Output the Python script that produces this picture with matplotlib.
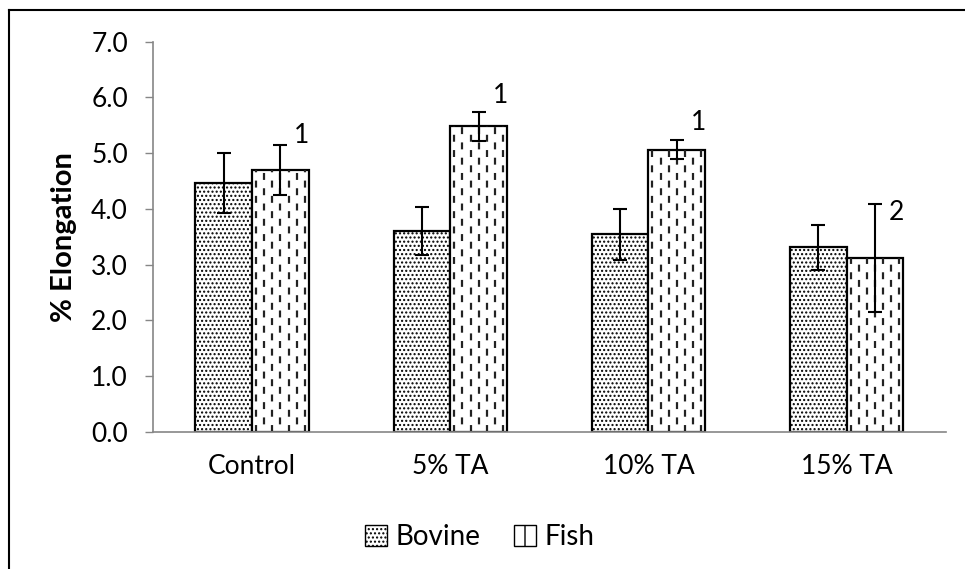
import numpy as np
import matplotlib.pyplot as plt
from matplotlib.patches import Patch

plt.rcParams['font.family'] = ['Lato', 'DejaVu Sans']
plt.rcParams['hatch.linewidth'] = 1.0
plt.rcParams['lines.scale_dashes'] = False

categories = ['Control', '5% TA', '10% TA', '15% TA']
bovine = [4.47, 3.61, 3.54, 3.31]
bovine_err = [0.54, 0.43, 0.45, 0.40]
fish = [4.70, 5.48, 5.06, 3.11]
fish_err = [0.45, 0.26, 0.17, 0.97]
labels = ['1', '1', '1', '2']
label_y = [5.31, 6.04, 5.55, 3.93]

fig = plt.figure(figsize=(9.65, 5.69), dpi=100)
ax = fig.add_axes([0.1585, 0.2413, 0.8215, 0.6854])

x = np.arange(len(categories))
w = 0.286

b1 = ax.bar(x - w/2, bovine, w, facecolor='white', edgecolor='black',
            linewidth=1.6, hatch='....', zorder=2)
b2 = ax.bar(x + w/2, fish, w, facecolor='white', edgecolor='black',
            linewidth=1.6, zorder=2)

# dashed vertical texture inside the fish bars
step = 0.041
for i, bar in enumerate(b2):
    left = bar.get_x()
    xs = np.arange(left + step/2, left + bar.get_width(), step)
    for k, xv in enumerate(xs):
        off = 0 if k % 2 == 0 else 5.5
        ln, = ax.plot([xv, xv], [0, bar.get_height()], color='#222222', lw=1.6,
                      linestyle=(off, (5, 6)), zorder=2.5)
        ln.set_clip_path(bar)

ax.errorbar(x - w/2, bovine, yerr=bovine_err, fmt='none', ecolor='black',
            elinewidth=1.5, capsize=5, capthick=1.5, zorder=3)
ax.errorbar(x + w/2, fish, yerr=fish_err, fmt='none', ecolor='black',
            elinewidth=1.5, capsize=5, capthick=1.5, zorder=3)

for i, t in enumerate(labels):
    ax.text(x[i] + w/2 + 0.07, label_y[i], t, fontsize=19, ha='left', va='center')

ax.set_xlim(-0.5, 3.5)
ax.set_ylim(0, 7)
ax.set_yticks(np.arange(0, 7.5, 1.0))
ax.set_yticklabels([f'{v:.1f}' for v in np.arange(0, 7.5, 1.0)])
ax.set_xticks(x)
ax.set_xticklabels(categories)
ax.tick_params(axis='y', labelsize=19, length=6, color='#868686', width=1, pad=12)
ax.tick_params(axis='x', labelsize=19, length=0, pad=16)
ax.set_ylabel('% Elongation', fontsize=21, fontweight='bold', labelpad=10)

for s in ['top', 'right']:
    ax.spines[s].set_visible(False)
for s in ['left', 'bottom']:
    ax.spines[s].set_color('#868686')
    ax.spines[s].set_linewidth(1.2)

handles = [Patch(facecolor='white', edgecolor='black', hatch='....', label='Bovine'),
           Patch(facecolor='white', edgecolor='black', hatch='|', label='Fish')]
fig.legend(handles=handles, loc='center', bbox_to_anchor=(0.497, 0.056), ncol=2,
           frameon=False, fontsize=20, handlelength=0.8, handleheight=0.8,
           handletextpad=0.3, columnspacing=1.2)

# outer frame (left and top edges visible)
fig.add_artist(plt.Line2D([0.0095, 0.0095], [0, 0.982], color='black', lw=1.5))
fig.add_artist(plt.Line2D([0.0095, 1.0], [0.982, 0.982], color='black', lw=1.5))

plt.savefig('out.png', dpi=100)
